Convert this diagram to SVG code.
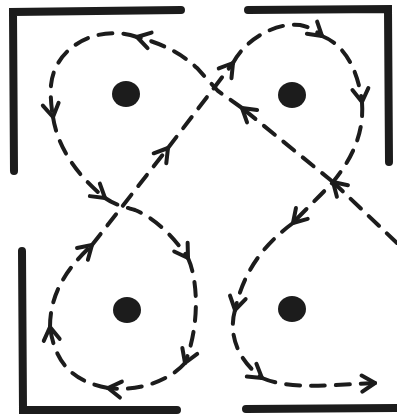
<svg xmlns="http://www.w3.org/2000/svg" width="397" height="420" viewBox="0 0 397 420">
<style>
.br{fill:none;stroke:#1c1c1c;stroke-width:8;stroke-linecap:round;stroke-linejoin:miter}
.dot{fill:#1c1c1c}
.d{fill:none;stroke:#1c1c1c;stroke-width:4;stroke-linecap:round;stroke-dasharray:14 11;marker-end:url(#ah)}
</style>
<defs>
<marker id="ah" markerUnits="userSpaceOnUse" viewBox="-16 -11 18 22" refX="0" refY="0" markerWidth="18" markerHeight="22" orient="auto">
<path d="M-13,-8 L0,0 L-13,8" fill="none" stroke="#1c1c1c" stroke-width="4" stroke-linecap="round" stroke-linejoin="round"/>
</marker>
</defs>
<g id="bracket-tl"><path class="br" d="M181,10 L13,12 L14,171"/></g>
<g id="bracket-tr"><path class="br" d="M248,10 L388,9 L389,162"/></g>
<g id="bracket-bl"><path class="br" d="M22,251 L23,410 L177,410"/></g>
<g id="bracket-br"><path class="br" d="M246,409 L396,408"/></g>
<g id="dot-tl"><ellipse class="dot" cx="126" cy="94" rx="14" ry="13"/></g>
<g id="dot-tr"><ellipse class="dot" cx="292" cy="95" rx="14" ry="13"/></g>
<g id="dot-bl"><ellipse class="dot" cx="127" cy="310" rx="14" ry="13"/></g>
<g id="dot-br"><ellipse class="dot" cx="292" cy="309" rx="14" ry="13"/></g>
<g id="connectors">
<path class="d" d="M397,243 L333,182"/>
<path class="d" d="M333,182 L242,108"/>
<path class="d" d="M242,108 L218,91 L197,68 C180,52 160,43 137,37"/>
<path class="d" d="M137,37 C100,24 55,45 51,85 Q50,100 53,117"/>
<path class="d" d="M53,117 C58,150 80,178 105,198"/>
<path class="d" d="M105,198 C115,205 125,207 135,210 C155,218 175,238 188,258"/>
<path class="d" d="M188,258 C198,280 200,325 185,363"/>
<path class="d" d="M185,363 C170,380 140,392 108,388"/>
<path class="d" d="M108,388 C75,382 55,365 50,327"/>
<path class="d" d="M50,327 C50,295 65,270 92,245"/>
<path class="d" d="M92,245 L168,148"/>
<path class="d" d="M168,148 L233,63"/>
<path class="d" d="M233,63 C245,40 275,22 300,25 C310,27 316,31 322,36"/>
<path class="d" d="M322,36 C345,45 358,70 362,102"/>
<path class="d" d="M362,102 C364,130 355,155 333,182 C318,198 305,210 293,223"/>
<path class="d" d="M293,223 C270,240 245,265 235,310"/>
<path class="d" d="M235,310 C228,335 238,360 262,378"/>
<path class="d" d="M262,378 C290,390 330,385 375,383"/>
</g>
</svg>
